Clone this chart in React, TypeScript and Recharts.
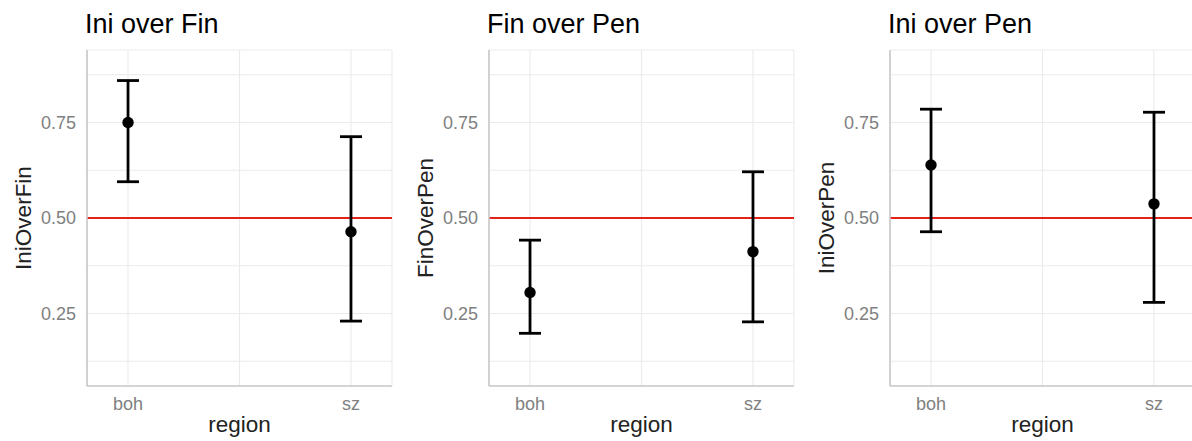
import {
  ScatterChart,
  Scatter,
  XAxis,
  YAxis,
  CartesianGrid,
  ReferenceLine,
  ErrorBar,
  Label,
} from "recharts";

const categories = ["boh", "sz"];

const iniOverFinMean = [0.75, 0.464];
const iniOverFinLower = [0.595, 0.23];
const iniOverFinUpper = [0.86, 0.713];

const finOverPenMean = [0.305, 0.412];
const finOverPenLower = [0.198, 0.228];
const finOverPenUpper = [0.442, 0.621];

const iniOverPenMean = [0.639, 0.537];
const iniOverPenLower = [0.464, 0.279];
const iniOverPenUpper = [0.785, 0.777];

const yTicks = [0.125, 0.25, 0.375, 0.5, 0.625, 0.75, 0.875];
const yLabels = ["0.25", "0.50", "0.75"];
const xTicks = [1, 1.5, 2];

const FONT = "'Liberation Sans', Arial, Helvetica, sans-serif";

interface PanelProps {
  title: string;
  yName: string;
  mean: number[];
  lower: number[];
  upper: number[];
  left: number;
}

function Panel({ title, yName, mean, lower, upper, left }: PanelProps) {
  const data = categories.map((region, i) => ({
    region,
    x: i + 1,
    y: mean[i],
    err: [mean[i] - lower[i], upper[i] - mean[i]],
  }));

  return (
    <div style={{ position: "absolute", left, top: 0, width: 397, height: 441 }}>
      <div
        style={{
          position: "absolute",
          left: 85,
          top: 11,
          fontSize: 27,
          lineHeight: "27px",
          color: "#000",
          whiteSpace: "nowrap",
        }}
      >
        {title}
      </div>
      <ScatterChart width={397} height={441} margin={{ top: 50, right: 5, bottom: 0, left: 0 }}>
        <CartesianGrid stroke="#ebebeb" strokeWidth={1.1} />
        <XAxis
          type="number"
          dataKey="x"
          domain={[0.816, 2.184]}
          ticks={xTicks}
          allowDataOverflow
          height={55}
          tickLine={false}
          tickMargin={5}
          axisLine={{ stroke: "#c8c8c8", strokeWidth: 1.6 }}
          tick={{ fill: "#808080", fontSize: 18 }}
          tickFormatter={(v: number) => (Number.isInteger(v) ? categories[v - 1] : "")}
        >
          <Label value="region" position="insideBottom" offset={9} fontSize={22.5} fill="#222" />
        </XAxis>
        <YAxis
          type="number"
          dataKey="y"
          domain={[0.06, 0.94]}
          ticks={yTicks}
          allowDataOverflow
          width={87}
          tickLine={false}
          tickMargin={5}
          axisLine={{ stroke: "#c8c8c8", strokeWidth: 1.6 }}
          tick={{ fill: "#808080", fontSize: 18 }}
          tickFormatter={(v: number) => {
            const s = v.toFixed(2);
            return yLabels.includes(s) ? s : "";
          }}
        >
          <Label
            content={(props: any) => {
              const vb = props.viewBox;
              const cx = vb.x + 31;
              const cy = vb.y + vb.height / 2;
              return (
                <text
                  x={cx}
                  y={cy}
                  transform={`rotate(-90, ${cx}, ${cy})`}
                  textAnchor="middle"
                  fontSize={22.5}
                  fill="#222"
                >
                  {yName}
                </text>
              );
            }}
          />
        </YAxis>
        <ReferenceLine y={0.5} stroke="#e2231a" strokeWidth={1.9} />
        <Scatter
          data={data}
          isAnimationActive={false}
          shape={(p: any) => <circle cx={p.cx} cy={p.cy} r={5.7} fill="#000" />}
        >
          <ErrorBar dataKey="err" direction="y" width={11} stroke="#000" strokeWidth={2.8} />
        </Scatter>
      </ScatterChart>
    </div>
  );
}

export default function App() {
  return (
    <div
      style={{
        position: "absolute",
        left: 0,
        top: 0,
        width: 1192,
        height: 441,
        overflow: "hidden",
        background: "#fff",
        fontFamily: FONT,
      }}
    >
      <Panel
        title="Ini over Fin"
        yName="IniOverFin"
        mean={iniOverFinMean}
        lower={iniOverFinLower}
        upper={iniOverFinUpper}
        left={0}
      />
      <Panel
        title="Fin over Pen"
        yName="FinOverPen"
        mean={finOverPenMean}
        lower={finOverPenLower}
        upper={finOverPenUpper}
        left={402}
      />
      <Panel
        title="Ini over Pen"
        yName="IniOverPen"
        mean={iniOverPenMean}
        lower={iniOverPenLower}
        upper={iniOverPenUpper}
        left={803}
      />
    </div>
  );
}
